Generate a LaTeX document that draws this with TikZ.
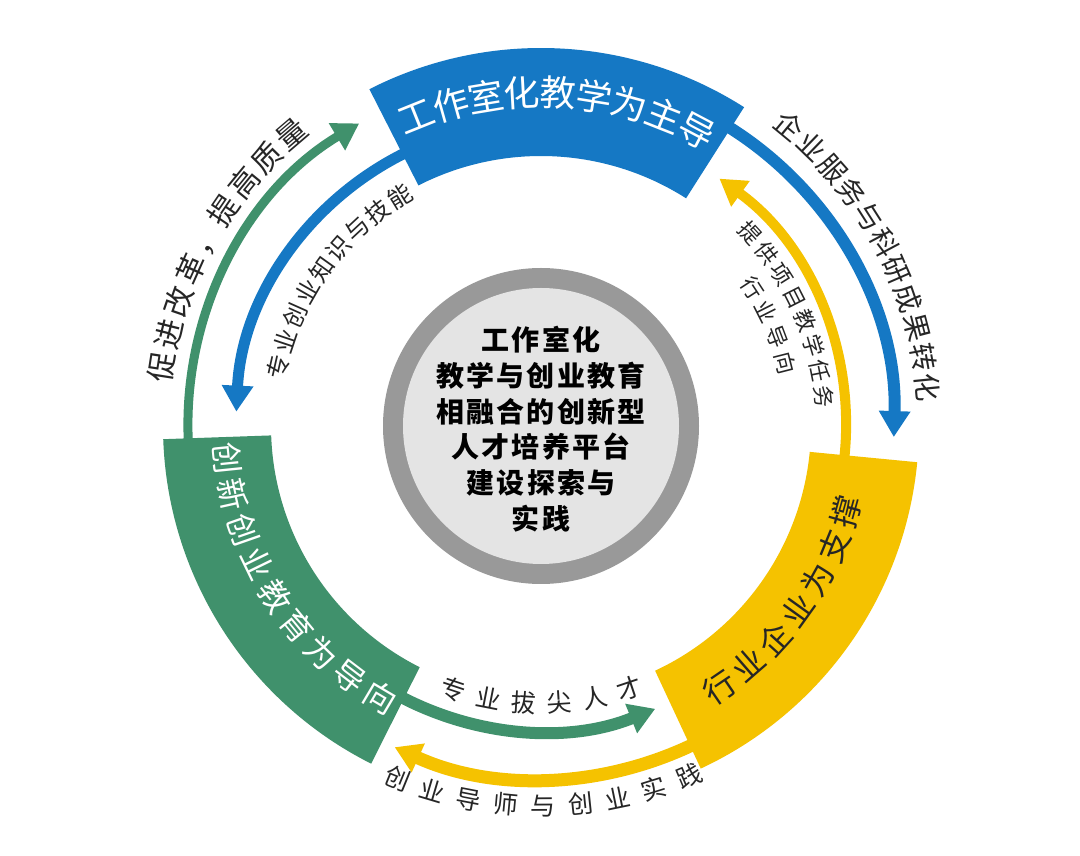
\documentclass[tikz,border=0pt]{standalone}
\usepackage{fontspec}
\newfontfamily\cjk{Noto Sans CJK SC}
\usetikzlibrary{arrows.meta}
\definecolor{cblue}{RGB}{21,120,196}
\definecolor{cgreen}{RGB}{64,145,108}
\definecolor{cyellow}{RGB}{245,194,0}
\definecolor{ctext}{RGB}{38,38,38}
\definecolor{ringgray}{RGB}{153,153,153}
\definecolor{corefill}{RGB}{228,228,228}
% #1 radius, #2 start angle, #3 end angle, #4 number of chars, #5 style, #6 chars, #7 name prefix
\newcommand\ringtext[7]{%
  \foreach \gch [count=\gi] in {#6}{%
    \pgfmathsetmacro\gang{#2+(\gi-0.5)*(#3-#2)/#4}%
    \pgfmathsetmacro\grot{\gang+90*sign(#3-#2)}%
    \node[glyph,#5,rotate=\grot] (#7\gi) at (\gang:#1) {\gch};
  }%
}
\tikzset{
  glyph/.style={inner sep=0pt, text height=.88em, text depth=.12em},
  arr/.style={-{Triangle[length=26pt,width=30pt]}},
  sector/.style={draw=none},
}
\begin{document}
\begin{tikzpicture}[x=1pt,y=1pt]
\useasboundingbox (0,0) rectangle (1080,855);
\fill[white] (0,0) rectangle (1080,855);
\begin{scope}[shift={(541,429)}]
% centre
\node[circle, fill=ringgray, minimum size=316pt, inner sep=0pt] (ring) at (0,0) {};
\node[circle, fill=corefill, minimum size=276pt, inner sep=0pt] (core) at (0,0) {};
\node[align=center, text=black, inner sep=0pt,
      font=\cjk\bfseries\fontsize{28}{35.7}\selectfont\addfontfeature{LetterSpace=8}] (ctitle) at (0,-3)
  {工作室化\\教学与创业教育\\相融合的创新型\\人才培养平台\\建设探索与\\实践};

% connector end points
\coordinate (gOutS) at (190:353);
\coordinate (bOutS) at (62:353);
\coordinate (yOutS) at (-60:353);
\coordinate (bInS) at (110:305);
\coordinate (yInS) at (-12:305);
\coordinate (gInS) at (236:305);

% outer ring arrows
\draw[arr, cgreen, line width=9pt] (gOutS) arc[start angle=190, end angle=121, radius=353];
\draw[arr, cblue, line width=12pt] (bOutS) arc[start angle=62, end angle=-1.8, radius=353];
\draw[arr, cyellow, line width=13pt] (yOutS) arc[start angle=-60, end angle=-114.5, radius=353];
% inner ring arrows
\draw[arr, cblue, line width=11pt] (bInS) arc[start angle=110, end angle=177.3, radius=305];
\draw[arr, cyellow, line width=10pt] (yInS) arc[start angle=-12, end angle=54.2, radius=305];
\draw[arr, cgreen, line width=12pt] (gInS) arc[start angle=236, end angle=292, radius=305];

% blocks
\fill[cblue] (57.5:270) arc[start angle=57.5, end angle=117, radius=270]
   -- (117:378) arc[start angle=117, end angle=57.5, radius=378] -- cycle;
\fill[cgreen] (182:270) arc[start angle=182, end angle=243.3, radius=270]
   -- (243.3:378) arc[start angle=243.3, end angle=182, radius=378] -- cycle;
\fill[cyellow] (-65:270) arc[start angle=-65, end angle=-5.5, radius=270]
   -- (-5.5:378) arc[start angle=-5.5, end angle=-65, radius=378] -- cycle;

% block labels
\ringtext{324}{115}{59.1}{9}{text=white, font=\cjk\fontsize{36}{36}\selectfont}{工,作,室,化,教,学,为,主,导}{bl}
\ringtext{324}{182.5}{242.7}{9}{text=white, font=\cjk\fontsize{32}{32}\selectfont}{创,新,创,业,教,育,为,导,向}{gl}
\ringtext{325}{-59}{-12.3}{7}{text=ctext, font=\cjk\fontsize{32}{32}\selectfont}{行,业,企,业,为,支,撑}{yl}

% arrow labels
\ringtext{376}{173.7}{128}{9}{text=ctext, font=\cjk\fontsize{30}{30}\selectfont}{促,进,改,革,，,提,高,质,量}{oa}
\ringtext{382}{52.6}{3.5}{11}{text=ctext, font=\cjk\fontsize{28}{28}\selectfont}{企,业,服,务,与,科,研,成,果,转,化}{ob}
\ringtext{386}{245}{295.7}{9}{text=ctext, font=\cjk\fontsize{25}{25}\selectfont}{创,业,导,师,与,创,业,实,践}{oc}
\ringtext{283}{247.9}{292.3}{6}{text=ctext, font=\cjk\fontsize{25}{25}\selectfont}{专,业,拔,尖,人,才}{ia}
\ringtext{264}{170.2}{118.7}{9}{text=ctext, font=\cjk\fontsize{24}{24}\selectfont}{专,业,创,业,知,识,与,技,能}{ib}
\ringtext{280}{45.4}{3.2}{8}{text=ctext, font=\cjk\fontsize{22}{22}\selectfont}{提,供,项,目,教,学,任,务}{ic}
\ringtext{248}{36.2}{11.2}{4}{text=ctext, font=\cjk\fontsize{22}{22}\selectfont}{行,业,导,向}{id}
\end{scope}
\end{tikzpicture}
\end{document}
